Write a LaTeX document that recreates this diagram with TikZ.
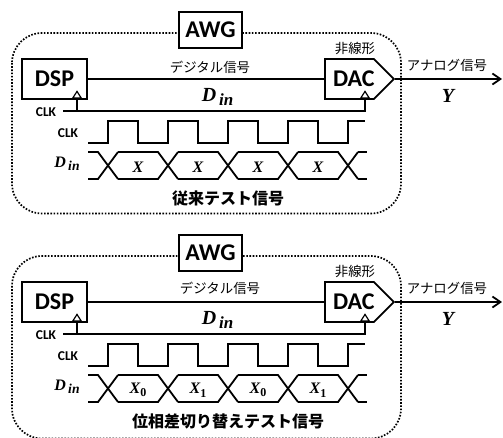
\documentclass[tikz,border=0pt]{standalone}
\usepackage{fontspec}
\setmainfont{Carlito}
\newfontfamily\jpfont{Noto Sans CJK JP}
\newfontfamily\varfont{Liberation Serif}
\usetikzlibrary{arrows.meta,positioning,shapes.geometric,shapes.symbols}
\tikzset{
  awg/box/.style={
    draw=black,
    line width=1.8pt,
    fill=white,
    align=center,
    inner sep=0pt,
    font=\fontsize{24}{24}\selectfont\bfseries
  },
  awg/dac/.style={
    awg/box,
    signal,
    signal to=east,
    signal pointer angle=90,
    minimum width=69pt,
    minimum height=40pt,
    anchor=west
  },
  awg/frame/.style={draw=black, line width=1.7pt, dash pattern=on 1.6pt off 1.6pt, rounded corners=30pt},
  awg/wire/.style={draw=black, line width=1.8pt},
  awg/arrow/.style={-{Straight Barb[length=8pt,width=11pt,line width=1.8pt]}, line width=1.8pt, draw=black},
  awg/clktri/.style={
    isosceles triangle,
    isosceles triangle apex angle=65,
    shape border rotate=90,
    draw=black,
    line width=1.2pt,
    fill=white,
    inner sep=0pt,
    minimum height=6.5pt,
    minimum width=8pt,
    anchor=lower side
  },
  awg/jp/.style={font=\jpfont\fontsize{13.4}{14}\selectfont, inner sep=0pt},
  awg/title/.style={font=\jpfont\bfseries\fontsize{16}{16}\selectfont, inner sep=0pt},
  awg/clk/.style={font=\bfseries\fontsize{13.5}{14}\selectfont, inner sep=0pt},
  awg/var/.style={font=\varfont\bfseries\itshape\fontsize{16}{16}\selectfont, inner sep=0pt},
  awg/bigvar/.style={font=\varfont\bfseries\itshape\fontsize{20}{20}\selectfont, inner sep=0pt}
}
\newcommand{\sigin}{D\raisebox{-0.18em}{\scalebox{0.85}{\,in}}}
\newcommand{\subzero}[2]{#1\raisebox{-0.22em}{\scalebox{0.75}{\upshape #2}}}
% one AWG panel: offset, x and y of the digital label, bottom of the frame, title, four data labels
\newcommand{\awgpanel}[9]{
  \begin{scope}[shift={(0,#1)}]
    \draw[awg/frame] (12,33) rectangle (401,#4);
    \node[awg/box,minimum width=63pt,minimum height=36pt] (awg) at (210.5,30) {AWG};
    \node[awg/box,minimum width=65pt,minimum height=40pt] (dsp) at (54.5,79) {DSP};
    \node[awg/dac] (dac) at (324,79) {\makebox[0pt]{\hspace{9pt}DAC}};
    \coordinate (out) at (502,79);
    \coordinate (clkin) at (63,111);
    \node[awg/clktri] (dsptri) at (77,98.5) {};
    \node[awg/clktri] (dactri) at (365,98.5) {};
    \draw[awg/wire] (dsp.east) -- (dac.west);
    \draw[awg/arrow] (dac.east) -- (out);
    \draw[awg/wire] (dsptri.lower side) -- (dsptri.lower side |- clkin);
    \draw[awg/wire] (clkin) -| (dactri.lower side);
    \node[awg/jp] (digital) at (#2,#3) {デジタル信号};
    \node[awg/jp] (nonlin) at (355,48) {非線形};
    \node[awg/jp] (analog) at (447,65) {アナログ信号};
    \node[awg/bigvar] (din) at (217.5,97) {\sigin};
    \node[awg/bigvar] (yout) at (448,96) {Y};
    \node[awg/clk] (clka) at (46,112) {CLK};
    \node[awg/clk] (clkb) at (68,133) {CLK};
    \node[awg/var] (dinb) at (67,164) {\sigin};
    % clock wave
    \draw[awg/wire] (88,143) -- (108,143) -- (108,121) -- (138,121) -- (138,143) -- (168,143)
      -- (168,121) -- (198,121) -- (198,143) -- (228,143) -- (228,121) -- (258,121) -- (258,143)
      -- (288,143) -- (288,121) -- (318,121) -- (318,143) -- (348,143) -- (348,121) -- (365,121);
    % data wave
    \draw[awg/wire] (88,152) -- (98,152) -- (118,179);
    \draw[awg/wire] (88,179) -- (98,179) -- (118,152);
    \foreach \cx in {168,228,288,348} {
      \draw[awg/wire] (\cx-50,152) -- (\cx-10,152) -- (\cx+10,179);
      \draw[awg/wire] (\cx-50,179) -- (\cx-10,179) -- (\cx+10,152);
    }
    \draw[awg/wire] (358,152) -- (367,152);
    \draw[awg/wire] (358,179) -- (367,179);
    \node[awg/var] (xa) at (138,167) {#6};
    \node[awg/var] (xb) at (198,167) {#7};
    \node[awg/var] (xc) at (258,167) {#8};
    \node[awg/var] (xd) at (318,167) {#9};
    \node[awg/title] (title) at (228,198) {#5};
  \end{scope}
}
\begin{document}
\begin{tikzpicture}[x=1pt,y=-1pt]
  \useasboundingbox (0,0) rectangle (503,437);
  \awgpanel{0}{210}{67}{213.5}{従来テスト信号}{X}{X}{X}{X}
  \awgpanel{223}{220}{65}{215.5}{位相差切り替えテスト信号}{\subzero{X}{0}}{\subzero{X}{1}}{\subzero{X}{0}}{\subzero{X}{1}}
\end{tikzpicture}
\end{document}
